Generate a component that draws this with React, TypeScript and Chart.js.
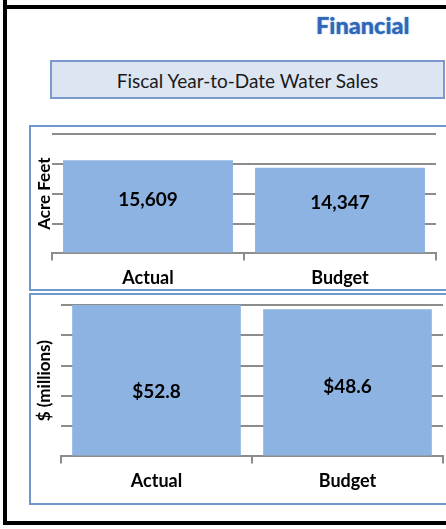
import React, { useEffect, useRef } from 'react';
import { Chart, registerables } from 'chart.js';

Chart.register(...registerables);

// ---- data ----
const categories = ['Actual', 'Budget'];
const acreFeetValues = [15609, 14347];
const salesMillionsValues = [52.8, 48.6];
const acreFeetTicks = [0, 5000, 10000, 15000, 20000];
const salesTicks = [0, 10, 20, 30, 40, 50];
const pageTitle = 'Financial';
const boxTitle = 'Fiscal Year-to-Date Water Sales';
const acreFeetTitle = 'Acre Feet';
const salesTitle = '$ (millions)';

// ---- style ----
const FONT = 'Lato, "Open Sans", "DejaVu Sans", sans-serif';
const BAR = '#8DB3E2';
const GRID = '#8C8C8C';
const PANEL_BORDER = '#6E97CE';

type PanelProps = {
  values: number[];
  ticks: number[];
  yTitle: string;
  format: (v: number) => string;
  labelDy: number[];
  padding: { left: number; right: number; top: number; bottom: number };
  width: number;
  height: number;
  left: number;
  top: number;
  barPct: number;
};

function BarPanel(p: PanelProps) {
  const ref = useRef<HTMLCanvasElement>(null);
  useEffect(() => {
    if (!ref.current) return;
    const overlay = {
      id: 'overlay',
      afterDatasetsDraw(chart: any) {
        const ctx = chart.ctx as CanvasRenderingContext2D;
        const area = chart.chartArea;
        const meta = chart.getDatasetMeta(0);
        ctx.save();
        ctx.fillStyle = '#000';
        ctx.textAlign = 'center';
        ctx.textBaseline = 'middle';
        ctx.font = `bold 19px ${FONT}`;
        meta.data.forEach((bar: any, i: number) => {
          const top = Math.max(bar.y, area.top);
          const y = (top + bar.base) / 2 + p.labelDy[i];
          ctx.fillText(p.format(p.values[i]), bar.x, y);
        });
        ctx.translate(16, (area.top + area.bottom) / 2);
        ctx.rotate(-Math.PI / 2);
        ctx.font = `bold 17px ${FONT}`;
        ctx.fillText(p.yTitle, 0, 0);
        ctx.restore();
      },
    };
    const chart = new Chart(ref.current, {
      type: 'bar',
      data: {
        labels: categories,
        datasets: [
          {
            data: p.values,
            backgroundColor: BAR,
            borderWidth: 0,
            barPercentage: p.barPct,
            categoryPercentage: 1,
          },
        ],
      },
      options: {
        animation: false,
        responsive: false,
        maintainAspectRatio: false,
        layout: { padding: p.padding },
        plugins: {
          legend: { display: false },
          tooltip: { enabled: false },
        },
        scales: {
          x: {
            grid: {
              offset: true,
              drawOnChartArea: false,
              drawTicks: true,
              tickLength: 7,
              color: GRID,
              lineWidth: 2,
            },
            border: { display: true, color: GRID, width: 2 },
            ticks: {
              color: '#000',
              padding: 7,
              font: { family: FONT, weight: 'bold', size: 18 },
            },
          },
          y: {
            min: p.ticks[0],
            max: p.ticks[p.ticks.length - 1],
            afterBuildTicks: (axis: any) => {
              axis.ticks = p.ticks.map((v) => ({ value: v }));
            },
            ticks: { display: false },
            grid: { drawTicks: false, color: GRID, lineWidth: 2 },
            border: { display: false },
          },
        },
      } as any,
      plugins: [overlay],
    });
    return () => chart.destroy();
  }, []);
  return (
    <canvas
      ref={ref}
      width={p.width}
      height={p.height}
      style={{ position: 'absolute', left: p.left, top: p.top, width: p.width, height: p.height }}
    />
  );
}

export default function App() {
  return (
    <div
      style={{
        position: 'absolute',
        left: 0,
        top: 0,
        width: 446,
        height: 529,
        overflow: 'hidden',
        background: '#fff',
        fontFamily: FONT,
      }}
    >
      {/* black frame */}
      <div style={{ position: 'absolute', left: 3, top: 0, width: 4, height: 525, background: '#000' }} />
      <div style={{ position: 'absolute', left: 3, top: 5, width: 460, height: 4, background: '#000' }} />
      <div style={{ position: 'absolute', left: 3, top: 521, width: 460, height: 4, background: '#000' }} />

      {/* Financial heading */}
      <div
        style={{
          position: 'absolute',
          left: 316,
          top: 11,
          fontSize: 23.5,
          fontWeight: 900,
          color: '#2F66B6',
          textShadow: '0 0 2px #9FBFEA, 0 0 1px #9FBFEA',
          lineHeight: '28px',
          whiteSpace: 'nowrap',
        }}
      >
        {pageTitle}
      </div>

      {/* title box */}
      <div
        style={{
          position: 'absolute',
          left: 50,
          top: 60,
          width: 395,
          height: 39,
          boxSizing: 'border-box',
          border: '2px solid #7A9ACB',
          background: '#DCE6F2',
          display: 'flex',
          alignItems: 'center',
          justifyContent: 'center',
          fontSize: 19,
          color: '#1A1A1A',
          paddingTop: 2,
          whiteSpace: 'nowrap',
        }}
      >
        {boxTitle}
      </div>

      {/* panels */}
      <div
        style={{
          position: 'absolute',
          left: 29,
          top: 125,
          width: 430,
          height: 166,
          boxSizing: 'border-box',
          border: `2px solid ${PANEL_BORDER}`,
        }}
      />
      <div
        style={{
          position: 'absolute',
          left: 29,
          top: 293,
          width: 430,
          height: 212,
          boxSizing: 'border-box',
          border: `2px solid ${PANEL_BORDER}`,
        }}
      />

      <BarPanel
        values={acreFeetValues}
        ticks={acreFeetTicks}
        yTitle={acreFeetTitle}
        format={(v) => v.toLocaleString('en-US')}
        labelDy={[-6, -7]}
        padding={{ left: 23, right: 10, top: 8, bottom: 4 }}
        width={417}
        height={174}
        left={29}
        top={126}
        barPct={0.885}
      />
      <BarPanel
        values={salesMillionsValues}
        ticks={salesTicks}
        yTitle={salesTitle}
        format={(v) => '$' + v.toFixed(1)}
        labelDy={[12, 5]}
        padding={{ left: 32, right: 3, top: 11, bottom: 14 }}
        width={417}
        height={219}
        left={29}
        top={294}
        barPct={0.883}
      />
    </div>
  );
}
